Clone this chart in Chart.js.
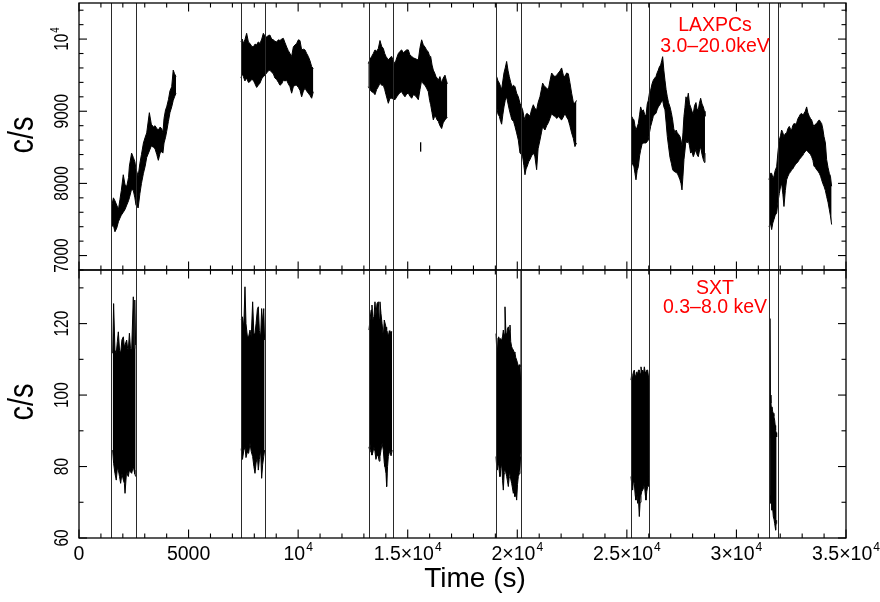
<!DOCTYPE html>
<html><head><meta charset="utf-8">
<script src="https://cdn.jsdelivr.net/npm/chart.js@4.4.1/dist/chart.umd.min.js"></script>
<style>
html,body{margin:0;padding:0;background:#fff;}
#wrap{position:relative;width:880px;height:602px;background:#fff;}
canvas{position:absolute;left:0;top:0;}
</style>
</head><body>
<div id="wrap"><canvas id="cTop" width="880" height="602"></canvas><canvas id="cBot" width="880" height="602"></canvas></div>
<script>
// ---------------- DATA ----------------
// LAXPC light curve, 3.0-20.0 keV: time (s), upper and lower envelope (c/s) per orbit segment
const lxT1 = [1490,1570,1640,1720,1800,1870,1930,2020,2100,2180,2260,2300,2400,2480,2550,2600,2700,2780,2850,2940,3020,3090,3210,3300,3400,3470,3550,3620,3700,3772,3830,3880,3950,4000,4080,4150,4230,4300,4360,4426];
const lxHi1 = [7680,7800,7760,7700,7640,7780,7900,8120,7980,7960,8080,8240,8420,8360,8300,8200,8100,8280,8400,8560,8640,8700,8980,8820,8780,8800,8760,8740,8780,8760,8700,8900,9020,9060,9160,9280,9340,9570,9520,9480];
const lxLo1 = [7400,7420,7330,7380,7470,7520,7560,7600,7640,7700,7760,7800,7920,7900,7800,7700,7660,7860,8000,8140,8240,8360,8450,8520,8500,8480,8400,8320,8420,8440,8420,8560,8640,8720,8860,8980,9060,9150,9200,9250];

const lxT2 = [7390,7450,7500,7570,7650,7730,7800,7880,7955,8030,8107,8180,8259,8340,8411,8490,8563,8640,8715,8790,8867,8940,9019,9100,9171,9250,9324,9400,9476,9550,9628,9704,9780,9860,9932,10010,10084,10160,10240,10312,10390,10463,10540,10616,10692];
const lxHi2 = [9960,10000,9940,9990,10080,9960,9940,9900,9890,9930,9920,9960,9940,10000,10080,10040,10030,10050,10055,10000,9990,9970,9960,9990,9980,10000,10010,9950,9890,9840,9800,9760,9890,9920,9940,9990,9980,9850,9860,9850,9800,9760,9700,9620,9590];
const lxLo2 = [9460,9520,9480,9420,9460,9400,9410,9440,9430,9380,9330,9360,9390,9450,9480,9500,9530,9560,9570,9540,9520,9460,9440,9400,9360,9380,9430,9420,9430,9380,9340,9250,9340,9360,9360,9330,9290,9200,9280,9320,9280,9250,9220,9180,9270];

const lxT3 = [13202,13280,13354,13430,13506,13580,13659,13735,13810,13887,13950,14008,14115,14190,14267,14340,14419,14500,14571,14650,14723,14800,14875,14950,15027,15100,15180,15260,15332,15410,15484,15560,15636,15710,15788,15860,15940,16000,16047,16110,16168,16230,16290,16340,16396,16470,16548,16620,16701,16760,16807];
const lxHi3 = [9660,9720,9760,9800,9850,9830,9870,9980,9900,9870,9800,9760,9710,9740,9760,9700,9660,9740,9800,9830,9850,9810,9830,9850,9850,9780,9760,9740,9730,9720,9710,9880,9990,9920,9890,9850,9820,9760,9760,9640,9570,9530,9480,9460,9430,9480,9390,9460,9500,9430,9380];
const lxLo3 = [9340,9300,9270,9260,9230,9300,9340,9390,9360,9360,9300,9230,9110,9180,9180,9170,9160,9200,9230,9260,9270,9230,9200,9240,9250,9210,9180,9230,9220,9190,9160,9300,9430,9380,9360,9320,9270,9150,9090,8980,8880,8930,8920,8880,8860,8800,8760,8840,8880,8900,8920];

const lxT4 = [19058,19120,19180,19240,19286,19340,19393,19450,19514,19580,19636,19700,19758,19830,19895,19970,20047,20123,20190,20244,20300,20351,20400,20457,20520,20579,20650,20731,20800,20883,20950,21035,21100,21157,21210,21264,21340,21416,21490,21568,21640,21720,21800,21872,21950,22024,22100,22176,22250,22328,22400,22480,22560,22632,22700];
const lxHi4 = [9480,9420,9390,9340,9300,9420,9530,9600,9690,9560,9480,9400,9340,9360,9340,9250,9200,9110,9060,9020,8930,8880,8960,8970,8950,8930,9020,9090,9040,9020,9120,9200,9300,9390,9360,9340,9320,9300,9420,9530,9500,9480,9500,9530,9560,9600,9500,9480,9530,9520,9400,9250,9120,9110,9150];
const lxLo4 = [9060,8960,8930,8860,8820,8950,9060,9150,9200,9100,9020,8940,8880,8860,8790,8700,8600,8420,8400,8370,8250,8120,8200,8240,8300,8330,8380,8420,8380,8190,8480,8600,8700,8790,8760,8740,8800,8840,8900,8970,8940,8930,8900,8930,8900,8880,8920,8970,8920,8880,8800,8700,8620,8510,8560];

const lxT5 = [25218,25270,25325,25370,25416,25470,25523,25580,25629,25690,25751,25810,25872,25930,25979,26030,26085,26150,26207,26270,26329,26380,26435,26490,26542,26590,26633,26690,26739,26790,26846,26900,26968,27030,27089,27140,27196,27250,27302,27360,27424,27470,27515,27560,27606,27650,27698,27750,27804,27860,27911,27970,28032,28090,28154,28200,28260,28310,28367,28430,28489,28540,28565];
const lxHi5 = [8930,8900,8880,8800,8740,8780,8830,8950,9060,9000,9020,8960,8930,9100,9150,9250,9290,9380,9430,9460,9480,9530,9570,9620,9640,9700,9756,9560,9430,9300,9200,9120,9060,8980,8880,8760,8700,8740,8700,8680,8650,8600,8510,8700,8930,9050,9200,9150,9250,9100,9060,9000,8970,9080,9120,9030,9020,9110,9180,9100,9060,9000,8930];
const lxLo5 = [8330,8260,8230,8140,8050,8180,8230,8380,8460,8540,8560,8560,8560,8580,8600,8700,8790,8860,8930,8960,8970,9020,9060,9080,9110,9140,9150,9060,9020,8850,8650,8520,8360,8280,8190,8170,8160,8150,8140,8100,8050,8000,7910,8100,8330,8450,8600,8560,8600,8520,8420,8440,8370,8420,8470,8400,8370,8450,8510,8400,8330,8290,8420];

const lxT6 = [31485,31550,31607,31660,31713,31770,31835,31900,31956,32010,32063,32120,32169,32230,32291,32350,32413,32470,32519,32570,32626,32690,32747,32810,32869,32920,32975,33030,33082,33140,33204,33260,33325,33380,33432,33490,33538,33600,33660,33720,33782,33840,33888,33940,33995,34060,34116,34180,34238,34290,34344];
const lxHi6 = [8050,8140,8140,8080,8100,8180,8230,8450,8600,8660,8740,8700,8650,8690,8700,8760,8790,8750,8740,8800,8830,8820,8840,8900,8930,8960,8970,8950,8970,9000,9060,8980,8930,8900,8880,8820,8790,8820,8830,8860,8880,8850,8830,8760,8650,8560,8330,8220,8140,8100,7960];
const lxLo6 = [7400,7450,7360,7450,7500,7560,7590,7750,7860,7950,8000,7850,7680,7900,8050,8100,8140,8160,8190,8200,8230,8260,8280,8300,8330,8350,8370,8390,8420,8440,8460,8440,8420,8400,8370,8320,8240,8220,8190,8170,8140,8100,8050,8000,7960,7900,7820,7740,7640,7550,7430];

// isolated LAXPC bin
const lxIsoT = [15590, 15590];
const lxIsoV = [8440, 8570];

// SXT light curve, 0.3-8.0 keV
const sxT1 = [1536,1580,1640,1700,1750,1795,1850,1900,1960,2023,2070,2100,2175,2220,2250,2300,2350,2403,2479,2510,2545,2585];
const sxHi1 = [111.7,125.6,112.6,111.7,115.0,117.7,112.6,111.7,115.5,116.3,113.5,114.0,115.4,113.0,112.6,117.3,113.0,112.6,127.5,113.0,126.6,114.0];
const sxLo1 = [84.6,80.9,78.1,76.2,79.5,79.0,77.2,75.3,78.0,76.2,75.3,72.5,79.0,77.5,77.2,79.0,78.5,78.1,80.0,79.0,78.0,77.2];

const sxT2 = [7400,7460,7520,7574,7620,7680,7740,7803,7860,7924,7980,8031,8080,8140,8183,8230,8290,8335,8380,8430,8470];
const sxHi2 = [121.0,121.9,119.0,130.3,120.0,116.5,116.3,118.2,116.3,126.1,117.0,117.2,120.0,124.0,124.7,118.0,116.3,124.2,120.0,124.2,115.4];
const sxLo2 = [85.0,82.0,84.5,85.5,82.5,84.0,83.7,86.5,84.2,82.8,80.0,78.1,81.0,82.8,79.0,82.0,84.6,76.7,80.5,82.8,84.6];

const sxT3 = [13230,13280,13330,13369,13410,13460,13506,13550,13600,13658,13700,13734,13780,13830,13887,13930,13963,14010,14039,14080,14115,14160,14191,14240,14290];
const sxHi3 = [118.2,121.0,123.8,125.2,121.0,122.0,126.1,122.5,125.6,126.1,121.5,126.1,122.8,120.0,116.3,121.0,121.0,119.0,118.2,117.5,116.3,118.0,117.2,117.7,117.7];
const sxLo3 = [85.5,84.0,86.5,83.2,84.0,85.5,84.2,82.0,83.2,82.8,81.5,82.8,84.5,86.5,84.6,81.0,80.0,78.0,74.4,80.0,82.8,84.0,84.2,83.0,84.6];

const sxT4 = [19028,19060,19089,19120,19150,19180,19211,19250,19287,19330,19363,19400,19439,19480,19515,19550,19591,19630,19667,19700,19743,19780,19819,19860,19895,19930,19971,20010,20047,20090,20123,20150,20168];
const sxHi4 = [117.2,113.0,111.7,116.0,116.3,115.5,115.9,115.4,115.4,116.5,118.2,117.0,124.7,117.5,116.8,118.5,119.1,118.0,119.6,115.0,113.5,113.0,112.6,112.0,111.7,110.5,109.8,109.0,107.9,108.5,107.9,104.2,136.0];
const sxLo4 = [82.8,80.0,79.0,80.5,80.9,78.5,77.2,79.5,80.9,76.0,73.4,78.0,79.0,78.5,77.2,76.0,74.4,77.0,78.1,76.5,75.3,74.0,72.5,73.5,71.6,73.0,70.6,75.0,77.2,78.0,79.0,82.8,84.0];

const sxT5 = [25188,25226,25264,25300,25340,25380,25416,25455,25492,25530,25568,25605,25645,25683,25721,25760,25797,25835,25873,25910,25949,25990,26010];
const sxHi5 = [104.2,106.0,104.2,106.5,107.0,105.5,105.1,106.5,105.6,107.0,107.0,106.0,107.9,106.5,107.0,106.0,107.9,106.5,106.1,107.0,107.0,105.0,104.2];
const sxLo5 = [77.2,75.0,73.4,76.0,75.3,72.0,70.6,72.5,69.7,71.0,66.0,70.0,72.0,73.0,73.4,74.0,75.3,72.5,70.6,73.0,74.4,75.0,74.4];

const sxT6 = [31510,31531,31550,31576,31600,31622,31650,31683,31710,31744,31770,31789,31810,31835];
const sxHi6 = [100.0,121.4,100.0,97.7,96.0,96.7,95.5,94.9,94.0,93.0,91.5,90.2,89.5,88.3];
const sxLo6 = [88.0,95.8,72.0,69.7,70.5,67.8,68.5,66.0,65.5,64.1,63.0,62.2,64.0,65.0];

// vertical marker lines (s)
const markerTimes = [1474,2587,7392,8501,13219,14314,19014,20182,25174,26009,31471,31909];

// axes and tick labels
const xRange = [0, 35000];
const xMajorTicks = [0,5000,10000,15000,20000,25000,30000,35000];
const xTickLabels = ['0','5000','10^4','1.5\u00d710^4','2\u00d710^4','2.5\u00d710^4','3\u00d710^4','3.5\u00d710^4'];
const topYRange = [6800, 10500];
const topYMajor = [7000,8000,9000,10000];
const topYLabels = ['7000','8000','9000','10^4'];
const botYRange = [60, 135];
const botYMajor = [60,80,100,120];
const botYLabels = ['60','80','100','120'];
const xLabel = 'Time (s)';
const yLabel = 'c/s';
const topNote = ['LAXPCs', '3.0\u201320.0keV'];
const botNote = ['SXT', '0.3\u20138.0 keV'];

// ---------------- CHART ----------------
const FONT = "'Liberation Sans', Arial, Helvetica, sans-serif";

function band(times, hi, lo) {
  return [
    { data: times.map((t, i) => ({ x: t, y: hi[i] })), fill: '+1', backgroundColor: '#000', borderColor: '#000', borderWidth: 1, pointRadius: 0 },
    { data: times.map((t, i) => ({ x: t, y: lo[i] })), fill: false, borderColor: '#000', borderWidth: 1, pointRadius: 0 }
  ];
}

function drawExpText(ctx, text, x, y, size) {
  const parts = text.split('^');
  const base = parts[0], exp = parts[1];
  const es = size * 0.62;
  ctx.font = size + 'px ' + FONT;
  const wb = ctx.measureText(base).width;
  let we = 0;
  if (exp) { ctx.font = es + 'px ' + FONT; we = ctx.measureText(exp).width + 1; }
  const x0 = x - (wb + we) / 2;
  ctx.textAlign = 'left';
  ctx.textBaseline = 'alphabetic';
  ctx.font = size + 'px ' + FONT;
  ctx.fillText(base, x0, y);
  if (exp) { ctx.font = es + 'px ' + FONT; ctx.fillText(exp, x0 + wb + 1, y - size * 0.42); }
}

const framePlugin = {
  id: 'frame',
  afterDraw(chart, args, o) {
    const ctx = chart.ctx, a = chart.chartArea, xs = chart.scales.x, ys = chart.scales.y;
    ctx.save();
    // marker lines
    ctx.strokeStyle = '#2a2a2a'; ctx.lineWidth = 1;
    markerTimes.forEach(t => {
      const px = Math.round(xs.getPixelForValue(t)) + 0.5;
      ctx.beginPath(); ctx.moveTo(px, a.top); ctx.lineTo(px, a.bottom); ctx.stroke();
    });
    // frame
    ctx.strokeStyle = '#000'; ctx.lineWidth = 1.3;
    ctx.strokeRect(a.left, a.top, a.right - a.left, a.bottom - a.top);
    ctx.lineWidth = 1.1;
    const seg = (x1, y1, x2, y2) => { ctx.beginPath(); ctx.moveTo(x1, y1); ctx.lineTo(x2, y2); ctx.stroke(); };
    for (let v = xRange[0]; v <= xRange[1]; v += 1000) {
      const px = xs.getPixelForValue(v);
      const len = xMajorTicks.includes(v) ? 8.5 : 4.5;
      seg(px, a.top, px, a.top + len);
      seg(px, a.bottom, px, a.bottom - len);
    }
    for (let v = o.yMin; v <= o.yMax + 1e-6; v += o.yMinorStep) {
      const py = ys.getPixelForValue(v);
      const len = o.yMajor.includes(v) ? 8 : 4.5;
      seg(a.left, py, a.left + len, py);
      seg(a.right, py, a.right - len, py);
    }
    ctx.fillStyle = '#000';
    // y tick labels (rotated, condensed)
    o.yMajor.forEach((v, i) => {
      const py = ys.getPixelForValue(v);
      ctx.save();
      ctx.translate(68, py);
      ctx.rotate(-Math.PI / 2);
      ctx.scale(1, 1.35);
      drawExpText(ctx, o.yLabels[i], 0, 0, 15.5);
      ctx.restore();
    });
    // y axis title
    ctx.save();
    ctx.translate(33, o.titleY);
    ctx.rotate(-Math.PI / 2);
    ctx.scale(1, 1.18);
    ctx.font = '29px ' + FONT; ctx.textAlign = 'center'; ctx.textBaseline = 'alphabetic';
    ctx.fillText(yLabel, 0, 0);
    ctx.restore();
    // red note
    ctx.fillStyle = '#ff0000';
    ctx.font = '19.5px ' + FONT; ctx.textAlign = 'center'; ctx.textBaseline = 'alphabetic';
    ctx.fillText(o.note[0], 715, o.noteY[0]);
    ctx.fillText(o.note[1], 715, o.noteY[1]);
    // x tick labels + title
    if (o.xLabels) {
      ctx.fillStyle = '#000';
      xMajorTicks.forEach((v, i) => drawExpText(ctx, xTickLabels[i], xs.getPixelForValue(v), 559.5, 19.5));
      ctx.font = '28px ' + FONT; ctx.textAlign = 'center'; ctx.textBaseline = 'alphabetic';
      ctx.fillText(xLabel, 475, 587);
    }
    ctx.restore();
  }
};

function makeChart(id, datasets, yRange, pad, frameOpts) {
  return new Chart(document.getElementById(id), {
    type: 'line',
    data: { datasets },
    options: {
      responsive: false, animation: false, devicePixelRatio: 1, events: [],
      layout: { padding: pad },
      scales: {
        x: { type: 'linear', min: xRange[0], max: xRange[1], display: false },
        y: { type: 'linear', min: yRange[0], max: yRange[1], display: false }
      },
      elements: { point: { radius: 0 }, line: { tension: 0 } },
      plugins: { legend: { display: false }, tooltip: { enabled: false }, frame: frameOpts }
    },
    plugins: [framePlugin]
  });
}

const topSets = [].concat(
  band(lxT1, lxHi1, lxLo1), band(lxT2, lxHi2, lxLo2), band(lxT3, lxHi3, lxLo3),
  band(lxT4, lxHi4, lxLo4), band(lxT5, lxHi5, lxLo5), band(lxT6, lxHi6, lxLo6),
  [{ data: lxIsoT.map((t, i) => ({ x: t, y: lxIsoV[i] })), fill: false, borderColor: '#000', borderWidth: 1.3, pointRadius: 0 }]
);
const botSets = [].concat(
  band(sxT1, sxHi1, sxLo1), band(sxT2, sxHi2, sxLo2), band(sxT3, sxHi3, sxLo3),
  band(sxT4, sxHi4, sxLo4), band(sxT5, sxHi5, sxLo5), band(sxT6, sxHi6, sxLo6)
);

makeChart('cTop', topSets, topYRange, { left: 79, right: 34, top: 3, bottom: 332 },
  { yMin: 6800, yMax: 10500, yMinorStep: 200, yMajor: topYMajor, yLabels: topYLabels, titleY: 135, note: topNote, noteY: [31, 51.5], xLabels: false });
makeChart('cBot', botSets, botYRange, { left: 79, right: 34, top: 270, bottom: 64 },
  { yMin: 60, yMax: 135, yMinorStep: 10, yMajor: botYMajor, yLabels: botYLabels, titleY: 402, note: botNote, noteY: [293.5, 313], xLabels: true });
</script>
</body></html>
